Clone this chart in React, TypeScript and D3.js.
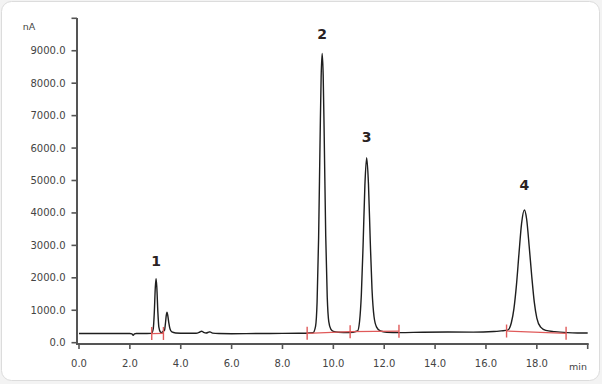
import React from "react";
import * as d3 from "d3";

// Chromatogram trace: [time (min), signal (nA)]
const traceTimes: number[] = [
  0, 1.0, 2.0, 2.08, 2.13, 2.18, 2.25, 2.6, 2.85, 2.92, 2.96, 3.0, 3.03, 3.06, 3.1, 3.14, 3.2, 3.25, 3.29,
  3.36, 3.4, 3.43, 3.46, 3.49, 3.53, 3.58, 3.65, 3.8, 4.2, 4.6, 4.75, 4.82, 4.9, 5.0, 5.1, 5.15, 5.25,
  5.5, 6.0, 7.0, 8.0, 8.9, 9.2, 9.3, 9.36, 9.42, 9.48, 9.52, 9.56, 9.6, 9.64, 9.7, 9.76, 9.82, 9.9, 10.0,
  10.2, 10.6, 10.95, 11.03, 11.1, 11.17, 11.24, 11.31, 11.38, 11.45, 11.52, 11.6, 11.7, 11.85, 12.1,
  12.6, 13.5, 14.5, 15.5, 16.3, 16.6, 16.85, 17.0, 17.1, 17.2, 17.3, 17.4, 17.51, 17.6, 17.7, 17.8,
  17.9, 18.0, 18.15, 18.35, 18.7, 19.2, 19.6, 20.0,
];
const traceValues: number[] = [
  285, 285, 282, 272, 228, 270, 282, 285, 288, 435, 920, 1700, 1975, 1700, 950, 480, 330, 310, 340,
  378, 607, 833, 937, 840, 620, 420, 330, 300, 290, 292, 330, 355, 320, 300, 325, 335, 295,
  282, 278, 282, 288, 292, 307, 503, 1240, 3210, 6350, 8190, 8920, 8250, 6400, 3300, 1400, 650, 420, 350,
  320, 312, 360, 655, 1470, 3030, 4850, 5700, 4900, 3150, 1650, 800, 480, 360, 322,
  312, 322, 328, 325, 345, 365, 386, 623, 1050, 1790, 2767, 3670, 4090, 3805, 2967, 2050,
  1250, 760, 480, 380, 340, 310, 300, 298,
];

// Integration markers (red): groups of connected baseline points [time, value]
const integrationTimes: number[][] = [
  [2.86, 3.32],
  [8.97, 10.66, 12.58],
  [16.81, 19.15],
];
const integrationValues: number[][] = [
  [280, 285],
  [290, 340, 355],
  [360, 290],
];

// Peak labels
const peakNames: string[] = ["1", "2", "3", "4"];
const peakTimes: number[] = [3.03, 9.56, 11.31, 17.51];
const peakLabelValues: number[] = [2520, 9510, 6340, 4870];

const xTicks: number[] = [0, 2, 4, 6, 8, 10, 12, 14, 16, 18];
const yTicks: number[] = [0, 1000, 2000, 3000, 4000, 5000, 6000, 7000, 8000, 9000];
const xMax = 20;
const yMax = 10000;

export default function App() {
  const W = 602;
  const H = 384;
  const x = d3.scaleLinear().domain([0, xMax]).range([79, 587.7]);
  const y = d3.scaleLinear().domain([0, yMax]).range([342.7, 18.3]);
  const axisY = 344;
  const axisX = 77;

  const pts: [number, number][] = traceTimes.map((t, i) => [t, traceValues[i]]);
  const line = d3
    .line<[number, number]>()
    .x((d) => x(d[0]))
    .y((d) => y(d[1]))
    .curve(d3.curveMonotoneX);

  const font = "'DejaVu Sans', Verdana, sans-serif";
  const axisColor = "#555";
  const textColor = "#444";
  const red = "#e05a5a";

  return (
    <svg
      width={W}
      height={H}
      style={{ position: "absolute", left: 0, top: 0, background: "#f3f3f3" }}
    >
      <rect x={1.5} y={1.5} width={598} height={379} rx={10} ry={10} fill="#fff" stroke="#dcdcdc" />
      {/* Axes */}
      <line x1={axisX} x2={axisX} y1={18} y2={axisY + 1} stroke={axisColor} strokeWidth={2} />
      <line x1={axisX - 1} x2={x(xMax) + 1} y1={axisY} y2={axisY} stroke={axisColor} strokeWidth={2} />
      {yTicks.concat([yMax]).map((v) => (
        <line key={"yt" + v} x1={axisX - 5.5} x2={axisX} y1={y(v)} y2={y(v)} stroke={axisColor} strokeWidth={1.6} />
      ))}
      {yTicks.map((v) => (
        <text
          key={"yl" + v}
          x={65.5}
          y={y(v)}
          dy="0.35em"
          textAnchor="end"
          fontFamily={font}
          fontSize={10}
          fill={textColor}
        >
          {v.toFixed(1)}
        </text>
      ))}
      {xTicks.concat([xMax]).map((v) => (
        <line key={"xt" + v} x1={x(v)} x2={x(v)} y1={axisY} y2={axisY + 5} stroke={axisColor} strokeWidth={1.6} />
      ))}
      {xTicks.map((v) => (
        <text
          key={"xl" + v}
          x={x(v)}
          y={363}
          dy="0.35em"
          textAnchor="middle"
          fontFamily={font}
          fontSize={10}
          fill={textColor}
        >
          {v.toFixed(1)}
        </text>
      ))}
      <text x={578} y={367} dy="0.35em" textAnchor="middle" fontFamily={font} fontSize={9.5} fill={textColor}>
        min
      </text>
      <text x={29} y={27} dy="0.35em" textAnchor="middle" fontFamily={font} fontSize={9.5} fill={textColor}>
        nA
      </text>

      {/* Trace */}
      <path d={line(pts) || ""} fill="none" stroke="#1e1e1e" strokeWidth={1.4} strokeLinejoin="round" />

      {/* Integration baselines */}
      {integrationTimes.map((ts, gi) => (
        <g key={"ig" + gi}>
          <polyline
            points={ts.map((t, i) => `${x(t)},${y(integrationValues[gi][i])}`).join(" ")}
            fill="none"
            stroke={red}
            strokeWidth={1.2}
          />
          {ts.map((t, i) => (
            <line
              key={"it" + i}
              x1={x(t)}
              x2={x(t)}
              y1={y(integrationValues[gi][i]) - 6.5}
              y2={y(integrationValues[gi][i]) + 6.5}
              stroke={red}
              strokeWidth={1.4}
            />
          ))}
        </g>
      ))}

      {/* Peak labels */}
      {peakNames.map((n, i) => (
        <text
          key={"pk" + n}
          x={x(peakTimes[i])}
          y={y(peakLabelValues[i])}
          dy="0.35em"
          textAnchor="middle"
          fontFamily={font}
          fontSize={14}
          fontWeight="bold"
          fill="#2a2222"
        >
          {n}
        </text>
      ))}
    </svg>
  );
}
